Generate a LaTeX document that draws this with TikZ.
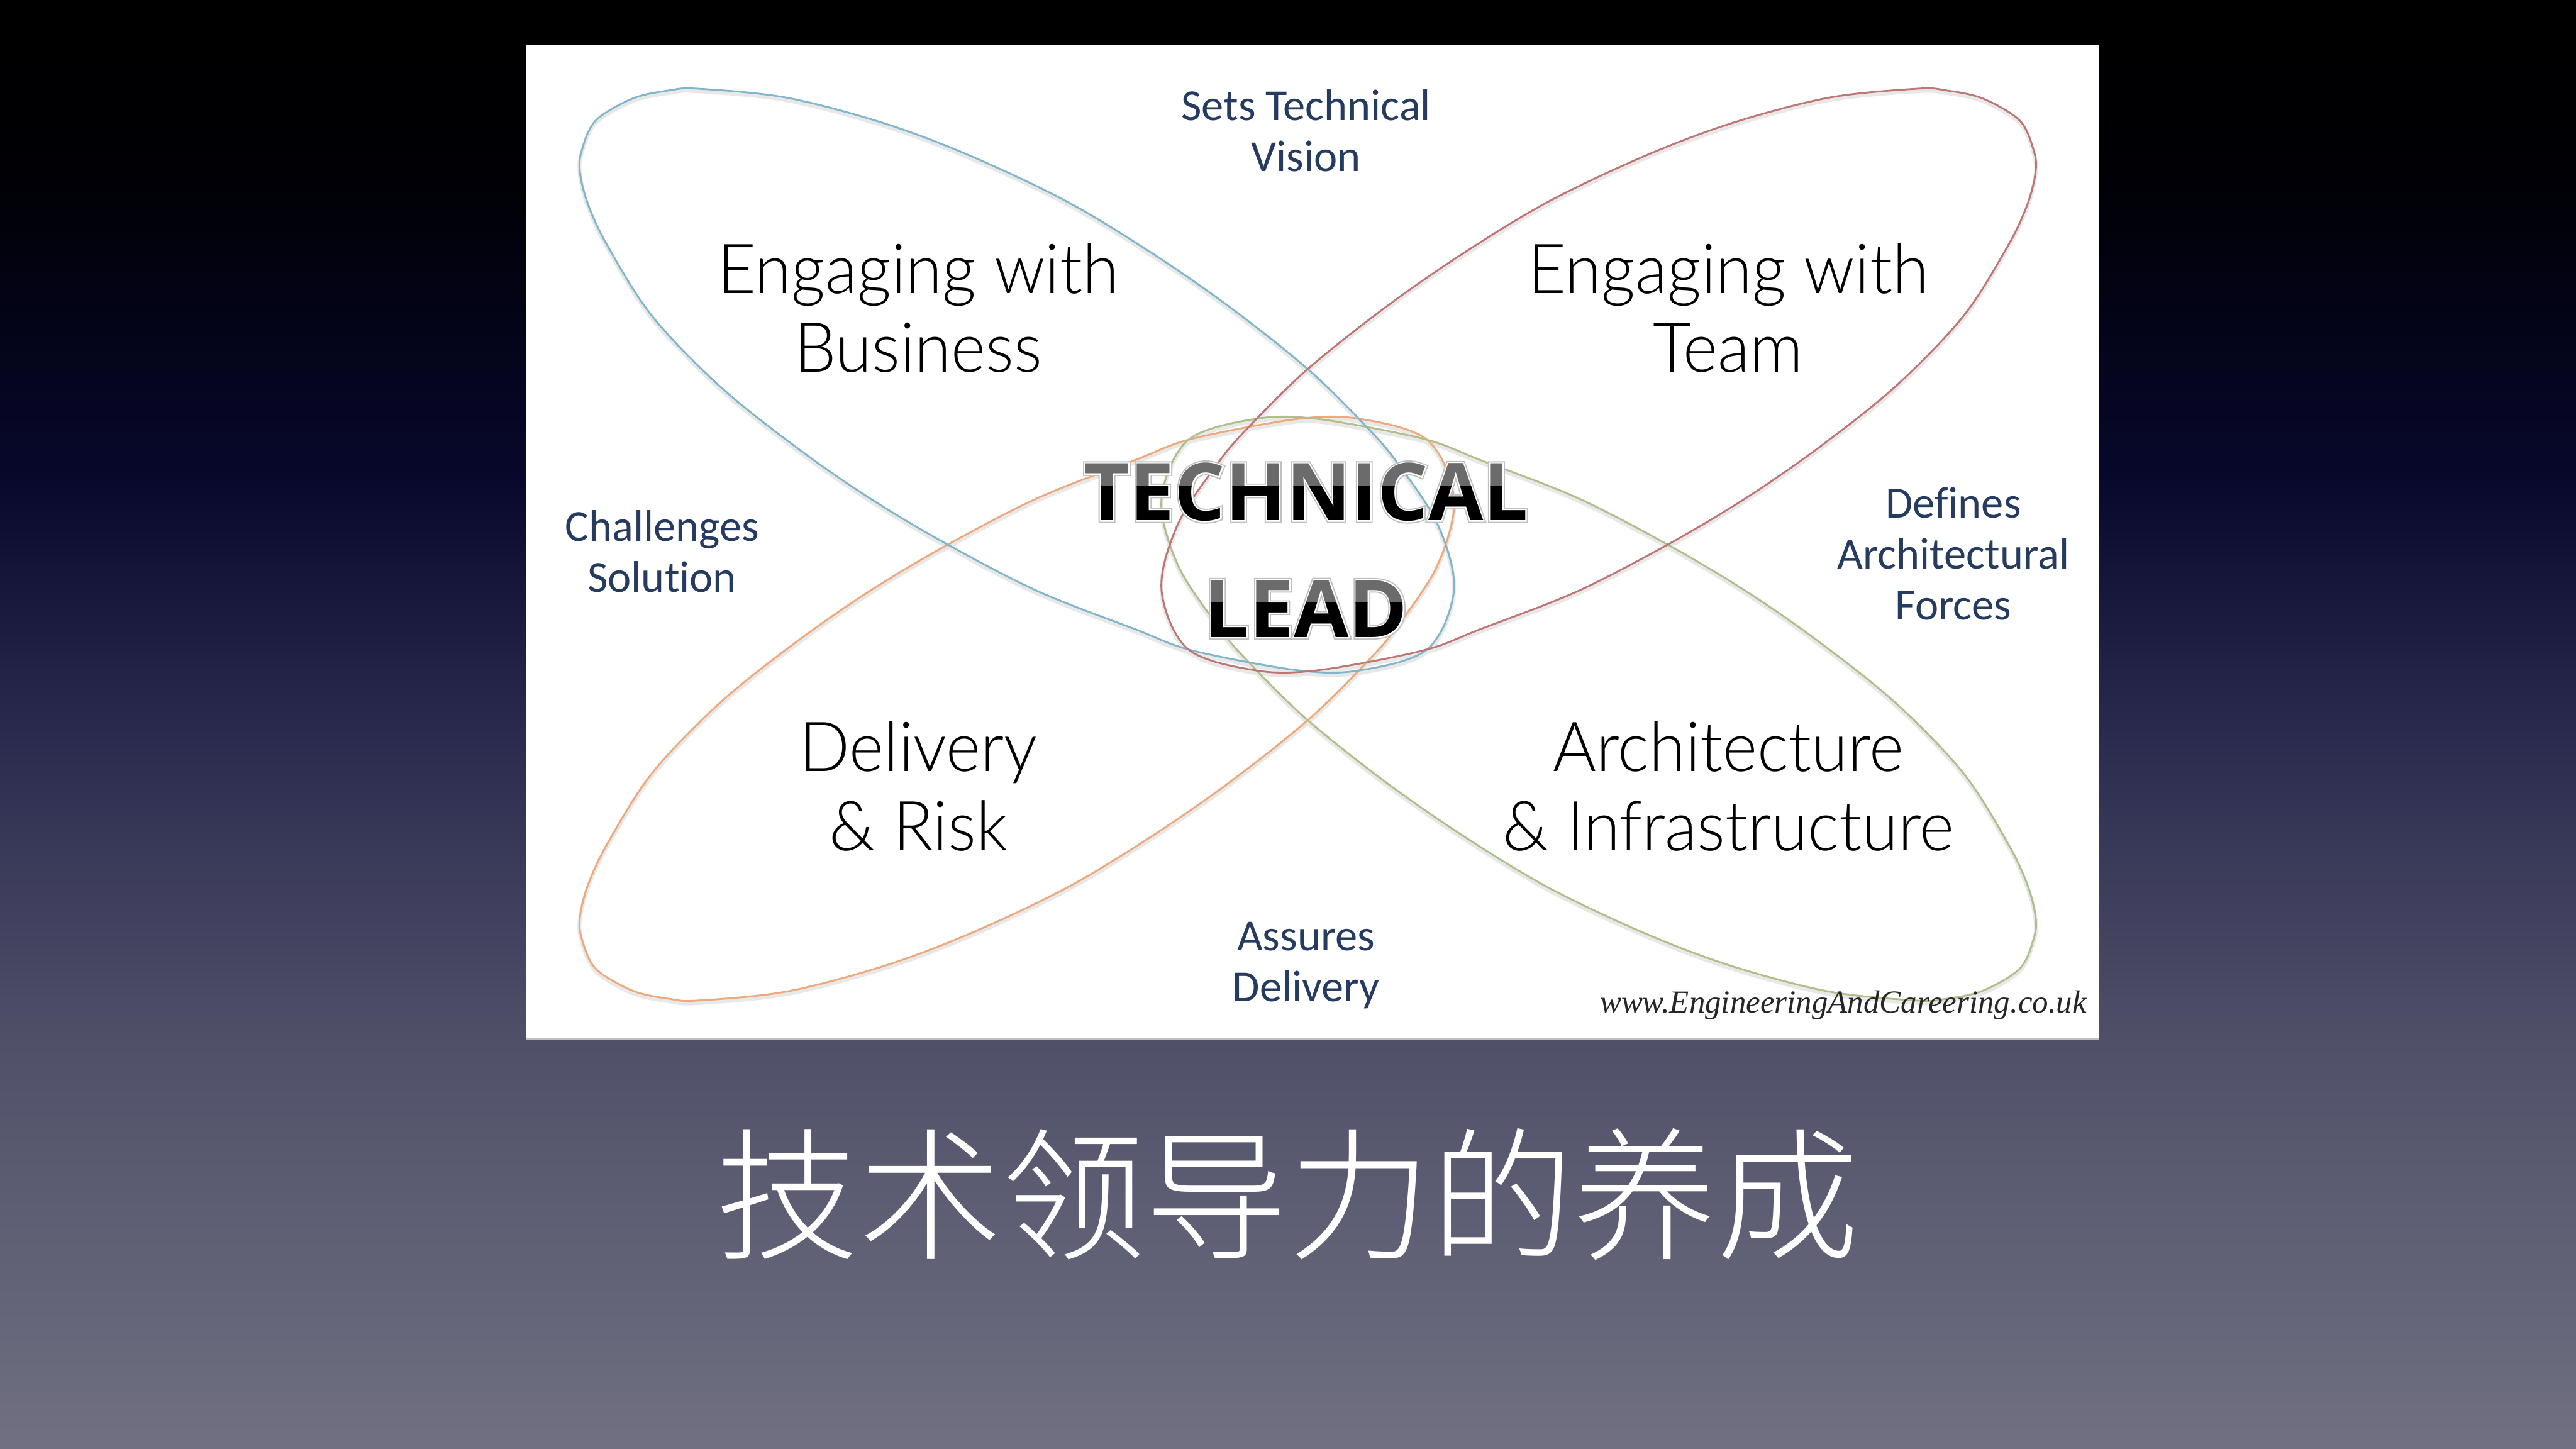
\documentclass[tikz,border=0pt]{standalone}
\usepackage{fontspec}
\setmainfont{Liberation Sans}
\newfontfamily\bigf{Lato Light}[FakeStretch=0.96]
\newfontfamily\labf{Carlito}[Ligatures=CommonOff]
\newfontfamily\urlf{Liberation Serif}[ItalicFont=* Italic]
\newfontfamily\leadf{Open Sans}[BoldFont=* Bold]
\newfontfamily\leadhi{Open Sans Bold}[FakeBold=3]
\newfontfamily\leadlo{Open Sans Bold}[FakeBold=6]
\newfontfamily\cjk{Noto Sans CJK SC Light}
\pgfdeclareverticalshading{slidebg}{100bp}{
 rgb(0bp)=(0.44,0.44,0.51);
 rgb(25bp)=(0.44,0.44,0.51);
 rgb(39.3bp)=(0.31,0.31,0.41);
 rgb(49.5bp)=(0.17,0.17,0.31);
 rgb(58.6bp)=(0.03,0.03,0.17);
 rgb(69bp)=(0,0,0.02);
 rgb(75bp)=(0,0,0);
 rgb(100bp)=(0,0,0)}
\definecolor{pblue}{HTML}{7FB6CB}
\definecolor{pred}{HTML}{BC7674}
\definecolor{porange}{HTML}{EBA97C}
\definecolor{pgreen}{HTML}{ADC088}
\definecolor{lab}{HTML}{263B60}
\tikzset{
 petal/.style={line width=1.1pt},
 petalshadow/.style={line width=2.4pt,black!9},
 bigtext/.style={font=\bigf\fontsize{42}{48}\selectfont,align=center,text=black,inner sep=0pt},
 labtext/.style={font=\labf\fontsize{27}{31}\selectfont,align=center,text=lab,inner sep=0pt},
 leadtext/.style={inner sep=0pt}
}
\newcommand{\petalpath}{plot[smooth cycle,tension=0.55] coordinates{(425,54)(479,59.5)(538,75)(591,95)(650,123)(702.6,155)(750,188)(797,225.5)(832,260)(850,281)(875,319)(885,359)(869,395)(828,408)(790,408)(726,396)(691,383)(632,360)(576,331)(529,303)(485,272.5)(438,235)(397,192.5)(370,150)(358,124.6)(353,105)(354,92)(362.5,73.5)(385,60)(407.5,55)}}
\begin{document}
\begin{tikzpicture}[x=1pt,y=-1pt]
\useasboundingbox (0,0) rectangle (1568,882);
\shade[shading=slidebg] (0,0) rectangle (1568,882);
\fill[black!25] (320.5,630) rectangle (1278,633);
\fill[white] (320.5,27.5) rectangle (1278,632);
% shadows
\draw[petalshadow,yshift=-1.5pt] \petalpath;
\begin{scope}[xshift=1592pt,xscale=-1]\draw[petalshadow,yshift=-1.5pt] \petalpath;\end{scope}
\begin{scope}[yshift=-663pt,yscale=-1]\draw[petalshadow,yshift=1.5pt] \petalpath;\end{scope}
\begin{scope}[xshift=1592pt,xscale=-1,yshift=-663pt,yscale=-1]\draw[petalshadow,yshift=1.5pt] \petalpath;\end{scope}
% petals
\begin{scope}[yshift=-663pt,yscale=-1]\draw[petal,porange] \petalpath;\end{scope}
\begin{scope}[xshift=1592pt,xscale=-1,yshift=-663pt,yscale=-1]\draw[petal,pgreen] \petalpath;\end{scope}
\draw[petal,pblue] \petalpath;
\begin{scope}[xshift=1592pt,xscale=-1]\draw[petal,pred] \petalpath;\end{scope}
% labels
\node[bigtext] (bus) at (559,187.5) {Engaging with\\Business};
\node[bigtext] (team) at (1052,187.5) {Engaging with\\Team};
\node[bigtext] (del) at (559,478.5) {Delivery\\\& Risk};
\node[bigtext] (arch) at (1052,478.5) {Architecture\\\& Infrastructure};
\node[labtext] (vision) at (795,79.5) {Sets Technical\\Vision};
\node[labtext] (chal) at (403,335.5) {Challenges\\Solution};
\node[labtext] (forces) at (1189,337) {Defines\\Architectural\\Forces};
\node[labtext] (assure) at (795,587.5) {Assures\\Delivery};
\node[inner sep=0pt,font=\urlf\itshape\fontsize{19.5}{24}\selectfont,text=black!85] (url) at (1122,612) {www.EngineeringAndCareering.co.uk};
% central title
\foreach \tx/\px/\nm in {TECHNICAL/299.5/tl,LEAD/370.5/ll}{
 \node[leadtext,text=black!25,font=\leadlo\fontsize{48.5}{50}\selectfont] (\nm h) at (795,\px) {\tx};
 \node[leadtext,text=white,font=\leadhi\fontsize{48.5}{50}\selectfont] (\nm w) at (795,\px) {\tx};
 \begin{scope}
  \clip (600,\px-30) rectangle (1000,\px-3.5);
  \node[leadtext,text=black!58,font=\leadf\bfseries\fontsize{48.5}{50}\selectfont] (\nm a) at (795,\px) {\tx};
 \end{scope}
 \begin{scope}
  \clip (600,\px-3.5) rectangle (1000,\px+30);
  \node[leadtext,text=black,font=\leadf\bfseries\fontsize{48.5}{50}\selectfont] (\nm b) at (795,\px) {\tx};
 \end{scope}
}
\node[inner sep=0pt,text=white,font=\cjk\fontsize{87}{90}\selectfont] (title) at (784,727) {技术领导力的养成};
\end{tikzpicture}
\end{document}
